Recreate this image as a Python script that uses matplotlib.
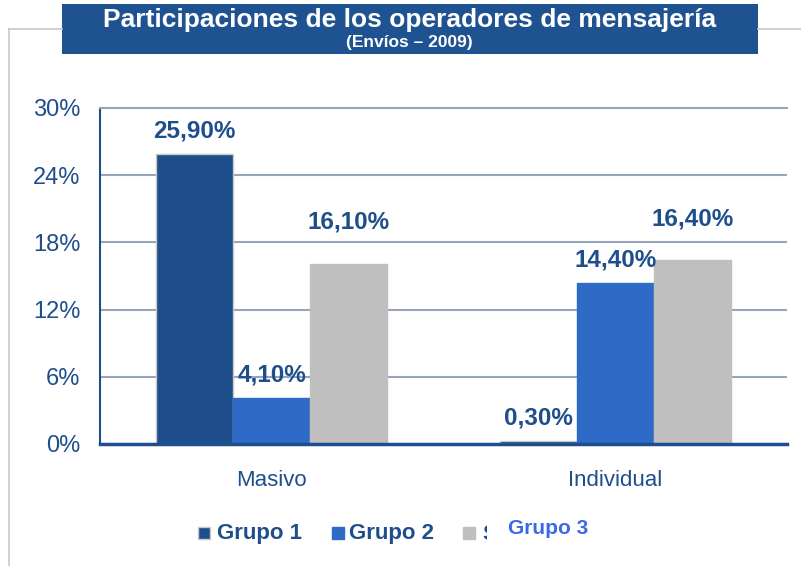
import numpy as np
import matplotlib
matplotlib.use("Agg")
from matplotlib import pyplot as plt
from matplotlib.patches import Rectangle
from matplotlib.lines import Line2D

categories = ['Masivo', 'Individual']
series_names = ['Grupo 1', 'Grupo 2', 'Grupo 3']
grupo_1 = [25.9, 0.3]
grupo_2 = [4.1, 14.4]
grupo_3 = [16.1, 16.4]
y_ticks = [0, 6, 12, 18, 24, 30]

DARK = '#1F4E8C'
COLORS = ['#1F4E8C', '#2E6BC6', '#BFBFBF']
GRID = '#97A4BB'
plt.rcParams['font.family'] = ['Liberation Sans', 'DejaVu Sans']

fig = plt.figure(figsize=(8.01, 5.66), dpi=100)
ax = fig.add_axes([100 / 801, 1 - 444 / 566, 687 / 801, 336 / 566])

x = np.arange(len(categories))
w = 0.2245
label_off = [16.5, 16.5, 30]
for i, vals in enumerate([grupo_1, grupo_2, grupo_3]):
    pos = x + (i - 1) * w
    ax.bar(pos, vals, w, color=COLORS[i], edgecolor='#C8C8C8' if i == 0 else COLORS[i],
           linewidth=1, zorder=2)
    for px, v in zip(pos, vals):
        ax.annotate(('%.2f%%' % v).replace('.', ','), (px, v),
                    xytext=(0, label_off[i]), textcoords='offset points',
                    ha='center', va='center', fontsize=17.5, fontweight='bold',
                    color=DARK, zorder=3)

ax.set_xlim(-0.5, 1.5)
ax.set_ylim(0, 30)
ax.set_yticks(y_ticks)
ax.set_yticklabels(['%d%%' % t for t in y_ticks])
ax.set_xticks(x)
ax.set_xticklabels(categories)
ax.tick_params(axis='y', length=0, pad=14, labelsize=17, labelcolor=DARK)
ax.tick_params(axis='x', length=0, pad=19, labelsize=16, labelcolor=DARK)
ax.yaxis.grid(True, color=GRID, linewidth=1.5, zorder=0)
ax.set_axisbelow(True)
ax.spines['right'].set_visible(False)
ax.spines['top'].set_color(GRID)
ax.spines['top'].set_linewidth(1.5)
ax.spines['left'].set_color(DARK)
ax.spines['left'].set_linewidth(1.5)
ax.spines['bottom'].set_color(DARK)
ax.spines['bottom'].set_linewidth(2.5)

# outer frame
fig.add_artist(Line2D([9 / 801, 62 / 801], [1 - 29 / 566] * 2, color='#C8C8C8', lw=1.2))
fig.add_artist(Line2D([758 / 801, 1], [1 - 29 / 566] * 2, color='#C8C8C8', lw=1.2))
fig.add_artist(Line2D([9 / 801] * 2, [0, 1 - 29 / 566], color='#C8C8C8', lw=1.2))

# title box
fig.add_artist(Rectangle((62 / 801, 1 - 54 / 566), 696 / 801, 50 / 566,
                         facecolor='#1F5290', edgecolor='none'))
fig.text(410 / 801, 1 - 20 / 566, 'Participaciones de los operadores de mensajería',
         ha='center', va='center', color='white', fontsize=19, fontweight='bold')
fig.text(409 / 801, 1 - 43 / 566, '(Envíos – 2009)', ha='center', va='center',
         color='white', fontsize=12.5, fontweight='bold')

# legend (drawn by hand)
ly = 1 - 534 / 566
for i, (sx, tx) in enumerate([(198, 217), (332, 349)]):
    fig.add_artist(Rectangle((sx / 801, 1 - 539 / 566), 12 / 801, 12 / 566,
                             facecolor=COLORS[i], edgecolor='#C8C8C8' if i == 0 else COLORS[i]))
    fig.text(tx / 801, ly, series_names[i], ha='left', va='center', fontsize=16,
             fontweight='bold', color=DARK)
fig.add_artist(Rectangle((463 / 801, 1 - 539 / 566), 12 / 801, 12 / 566,
                         facecolor=COLORS[2], edgecolor=COLORS[2]))
s_txt = fig.text(482 / 801, ly, 'S', ha='left', va='center', fontsize=16,
                 fontweight='bold', color=DARK)
clip = Rectangle((0, 0), 487 / 801, 1, transform=fig.transFigure, visible=False)
fig.add_artist(clip)
s_txt.set_clip_path(clip)
fig.text(508 / 801, 1 - 529 / 566, series_names[2], ha='left', va='center', fontsize=15,
         fontweight='bold', color='#3A6AE8')

fig.savefig('out.png', dpi=100)
